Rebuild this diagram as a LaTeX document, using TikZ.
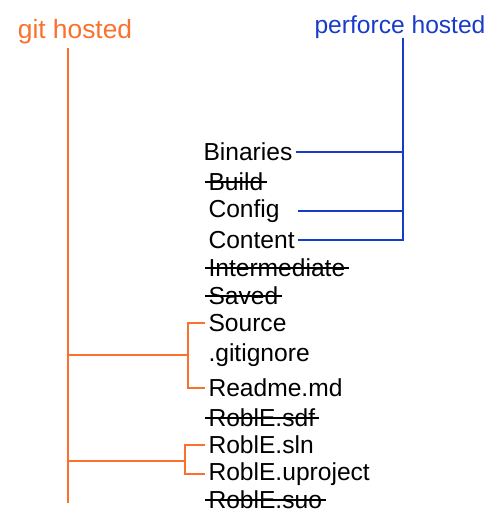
\documentclass[tikz,border=0pt]{standalone}
\usepackage{fontspec}
\setmainfont{Liberation Sans}
\usepackage{tikz}
\usetikzlibrary{positioning}
\definecolor{gitorange}{RGB}{250,112,45}
\definecolor{p4blue}{RGB}{25,60,200}
\tikzstyle{item}=[anchor=west,inner xsep=2pt,inner ysep=1pt,outer sep=0pt,font=\fontsize{14}{16}\selectfont]
\tikzstyle{gitline}=[draw=gitorange,line width=1.6pt]
\tikzstyle{p4line}=[draw=p4blue,line width=1.2pt]
\tikzstyle{strike}=[draw=black,line width=0.8pt]

\begin{document}
\begin{tikzpicture}[x=0.02cm,y=-0.02cm]

      \useasboundingbox (0,0) rectangle (500,520);

      \node[text=gitorange,font=\fontsize{15}{17}\selectfont] (git_label) at (75,32) {git hosted};
      \node[text=p4blue,font=\fontsize{14}{16}\selectfont] (p4_label) at (400,27) {perforce hosted};

      \node[item] (binaries) at (200,152) {Binaries};
      \node[item] (build) at (205,182) {Build};
      \node[item] (config) at (205,211) {Config};
      \node[item] (content) at (205,240) {Content};
      \node[item] (intermediate) at (205,268) {Intermediate};
      \node[item] (saved) at (205,296) {Saved};
      \node[item] (source) at (205,323) {Source};
      \node[item] (gitignore) at (205,355) {.gitignore};
      \node[item] (readme) at (205,388) {Readme.md};
      \node[item] (roble_sdf) at (205,418) {RoblE.sdf};
      \node[item] (roble_sln) at (205,445) {RoblE.sln};
      \node[item] (roble_uproject) at (205,474) {RoblE.uproject};
      \node[item] (roble_suo) at (205,500) {RoblE.suo};

      % crossed out entries
      \draw[strike] (build.west) -- (build.east);
      \draw[strike] (intermediate.west) -- (intermediate.east);
      \draw[strike] (saved.west) -- (saved.east);
      \draw[strike] (roble_sdf.west) -- (roble_sdf.east);
      \draw[strike] (roble_suo.west) -- (roble_suo.east);

      % perforce side
      \coordinate (p4_top) at (403,38);
      \draw[p4line] (content.east) -- ++(8,0) -| (p4_top);
      \draw[p4line] (binaries.east) -- (binaries.east -| p4_top);
      \draw[p4line] (content.east |- config.east) -- (p4_top |- config.east);

      % git side
      \coordinate (git_top) at (68,48);
      \coordinate (git_bottom) at (68,503);
      \draw[gitline] (git_top) -- (git_bottom);

      \draw[gitline] (source.west) -- ++(-17,0) coordinate (br1) |- (readme.west);
      \draw[gitline] (br1 |- gitignore.west) -- (git_top |- gitignore.west);

      \draw[gitline] (roble_sln.west) -- ++(-20,0) coordinate (br2) |- (roble_uproject.west);
      \coordinate (br2_mid) at (185,461);
      \draw[gitline] (br2_mid) -- (br2_mid -| git_top);

\end{tikzpicture}
\end{document}
